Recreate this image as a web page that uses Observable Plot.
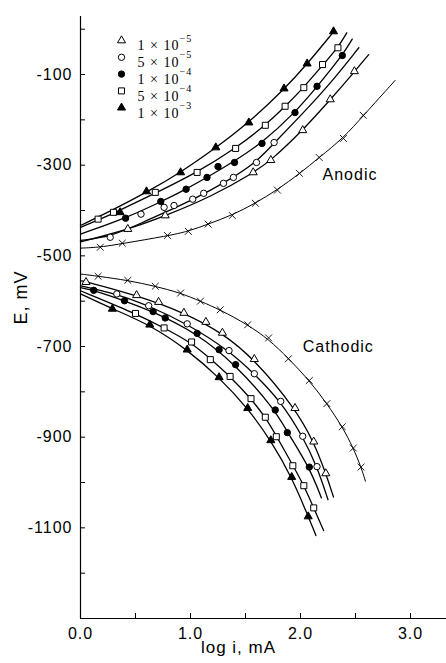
<!DOCTYPE html>
<html>
<head>
<meta charset="utf-8">
<script src="https://cdn.jsdelivr.net/npm/d3@7"></script>
<script src="https://cdn.jsdelivr.net/npm/@observablehq/plot@0.6"></script>
<style>
html, body { margin: 0; padding: 0; background: #fff; }
svg text { letter-spacing: 1px; }
</style>
</head>
<body>
<div id="chart"></div>
<script>
// ---------- data: [log i (mA), E (mV)] ----------
// legend / series keys
const legendMantissa = ["1", "5", "1", "5", "1"];
const legendExponent = ["\u22125", "\u22125", "\u22124", "\u22124", "\u22123"];
const seriesSymbols = ["triangle", "circle", "circle", "square", "triangle"];
const seriesFilled = [false, false, true, false, true];

// Anodic branch – measured points
const anodic_blank = [[0.18,-481],[0.38,-472],[0.79,-455],[0.98,-446],[1.16,-430],[1.38,-411],[1.59,-384],[1.79,-355],[1.99,-318],[2.17,-283],[2.39,-241],[2.57,-190]];
const anodic_1e5 = [[0.43,-441],[0.77,-411],[1.57,-316],[1.73,-289],[2.02,-223],[2.27,-155],[2.49,-93]];
const anodic_5e5 = [[0.27,-459],[0.55,-408],[0.76,-393],[0.85,-389],[1.02,-375],[1.12,-362],[1.30,-340],[1.39,-327],[1.60,-294],[1.76,-250]];
const anodic_1e4 = [[0.41,-417],[0.73,-380],[0.96,-353],[1.15,-327],[1.25,-303],[1.40,-294],[1.65,-252],[1.95,-184],[2.15,-126],[2.38,-58]];
const anodic_5e4 = [[0.16,-419],[0.30,-404],[0.68,-360],[1.06,-316],[1.41,-263],[1.68,-212],[1.86,-170],[2.03,-129],[2.20,-78],[2.34,-41]];
const anodic_1e3 = [[0.36,-404],[0.60,-358],[0.91,-316],[1.23,-261],[1.53,-206],[1.85,-131],[2.06,-76],[2.30,-5]];

// Anodic branch – fitted curves
const anodicCurve_blank = [[0,-483],[0.18,-481],[0.38,-473],[0.79,-456],[0.98,-446],[1.16,-430],[1.38,-410],[1.59,-384],[1.79,-354],[1.99,-319],[2.17,-283],[2.39,-240],[2.57,-191],[2.86,-113]];
const anodicCurve_1e5 = [[0,-469],[0.43,-442],[0.77,-412],[1.20,-368],[1.57,-317],[1.73,-290],[2.02,-223],[2.27,-156],[2.49,-94],[2.62,-56]];
const anodicCurve_5e5 = [[0,-466],[0.27,-458],[0.55,-428],[0.85,-395],[1.02,-376],[1.30,-340],[1.60,-294],[1.76,-251],[2.02,-186],[2.25,-126],[2.53,-41]];
const anodicCurve_1e4 = [[0,-452],[0.41,-417],[0.73,-381],[0.96,-353],[1.20,-320],[1.40,-291],[1.65,-251],[1.95,-184],[2.15,-127],[2.38,-58],[2.47,-22]];
const anodicCurve_5e4 = [[0,-437],[0.16,-421],[0.30,-406],[0.68,-362],[1.06,-316],[1.41,-263],[1.68,-212],[1.86,-171],[2.03,-128],[2.20,-80],[2.34,-41],[2.42,-8]];
const anodicCurve_1e3 = [[0,-433],[0.30,-398],[0.60,-360],[0.91,-316],[1.23,-262],[1.53,-206],[1.85,-133],[2.06,-77],[2.31,-3]];

// Cathodic branch – measured points
const cathodic_blank = [[0.16,-545],[0.43,-554],[0.68,-567],[0.91,-582],[1.09,-600],[1.27,-619],[1.52,-652],[1.71,-681],[1.89,-727],[2.08,-775],[2.24,-826],[2.38,-877],[2.48,-924],[2.55,-966]];
const cathodic_1e5 = [[0.05,-558],[0.51,-587],[0.71,-602],[0.94,-626],[1.14,-646],[1.29,-670],[1.58,-728],[1.95,-836],[2.12,-910],[2.23,-980]];
const cathodic_5e5 = [[0.33,-584],[0.62,-610],[0.97,-650],[1.35,-709],[1.58,-760],[1.82,-821],[2.02,-898],[2.15,-965]];
const cathodic_1e4 = [[0.12,-576],[0.40,-599],[0.66,-623],[0.77,-637],[1.06,-671],[1.26,-707],[1.41,-740],[1.77,-840],[1.88,-890],[2.08,-966]];
const cathodic_5e4 = [[0.50,-627],[0.76,-659],[1.01,-690],[1.18,-729],[1.36,-766],[1.55,-815],[1.68,-856],[1.78,-899],[1.93,-963],[2.03,-1007],[2.12,-1056]];
const cathodic_1e3 = [[0.29,-617],[0.63,-652],[0.97,-707],[1.26,-768],[1.52,-836],[1.73,-907],[1.92,-988],[2.07,-1075]];

// Cathodic branch – fitted curves
const cathodicCurve_blank = [[0,-540],[0.16,-545],[0.43,-554],[0.68,-567],[0.91,-582],[1.09,-600],[1.27,-619],[1.52,-652],[1.71,-684],[1.89,-726],[2.08,-775],[2.24,-826],[2.38,-877],[2.48,-924],[2.55,-966],[2.59,-997]];
const cathodicCurve_1e5 = [[0,-555],[0.05,-557],[0.51,-587],[0.94,-625],[1.29,-670],[1.58,-728],[1.95,-836],[2.12,-910],[2.23,-980],[2.30,-1032]];
const cathodicCurve_5e5 = [[0,-566],[0.33,-584],[0.62,-610],[0.97,-650],[1.35,-709],[1.58,-760],[1.82,-821],[2.02,-898],[2.15,-965],[2.25,-1038]];
const cathodicCurve_1e4 = [[0,-570],[0.12,-576],[0.40,-599],[0.66,-623],[1.06,-671],[1.41,-740],[1.77,-840],[1.88,-889],[2.08,-966],[2.19,-1034]];
const cathodicCurve_5e4 = [[0,-577],[0.50,-627],[0.76,-659],[1.01,-692],[1.18,-727],[1.36,-766],[1.55,-815],[1.68,-856],[1.78,-897],[1.93,-962],[2.03,-1006],[2.12,-1056],[2.21,-1106]];
const cathodicCurve_1e3 = [[0,-584],[0.29,-617],[0.63,-652],[0.97,-707],[1.26,-768],[1.52,-836],[1.73,-907],[1.92,-988],[2.07,-1075],[2.14,-1117]];

// ticks
const xTicksAll = [0, 0.5, 1, 1.5, 2, 2.5, 3];
const xTicksLabeled = [0, 1, 2, 3];
const yTicksAll = [0, -100, -200, -300, -400, -500, -600, -700, -800, -900, -1000, -1100, -1200];
const yTicksLabeled = [-100, -300, -500, -700, -900, -1100];

// ---------- build series table ----------
const anodicPts = [anodic_1e5, anodic_5e5, anodic_1e4, anodic_5e4, anodic_1e3];
const cathodicPts = [cathodic_1e5, cathodic_5e5, cathodic_1e4, cathodic_5e4, cathodic_1e3];
const anodicCurves = [anodicCurve_1e5, anodicCurve_5e5, anodicCurve_1e4, anodicCurve_5e4, anodicCurve_1e3];
const cathodicCurves = [cathodicCurve_1e5, cathodicCurve_5e5, cathodicCurve_1e4, cathodicCurve_5e4, cathodicCurve_1e3];

const symbolR = {triangle: 3.0, circle: 3.2, square: 3.4};
const X = d => d[0], Y = d => d[1];

const marks = [];
// axis lines
marks.push(Plot.ruleX([0], {stroke: "black", strokeWidth: 1.2}));
marks.push(Plot.ruleY([-1300], {stroke: "black", strokeWidth: 1.2}));

// blank (no inhibitor) curves
[anodicCurve_blank, cathodicCurve_blank].forEach(c =>
  marks.push(Plot.line(c, {x: X, y: Y, curve: "basis", stroke: "black", strokeWidth: 1})));
// inhibitor curves
[...anodicCurves, ...cathodicCurves].forEach(c =>
  marks.push(Plot.line(c, {x: X, y: Y, curve: "basis", stroke: "black", strokeWidth: 1.3})));

// blank markers
[anodic_blank, cathodic_blank].forEach(p =>
  marks.push(Plot.dot(p, {x: X, y: Y, symbol: "times", r: 3.2, stroke: "black", strokeWidth: 0.9})));

// inhibitor markers
seriesSymbols.forEach((s, i) => {
  [anodicPts[i], cathodicPts[i]].forEach(p =>
    marks.push(Plot.dot(p, {
      x: X, y: Y, symbol: s, r: symbolR[s],
      fill: seriesFilled[i] ? "black" : "white",
      stroke: "black", strokeWidth: 1
    })));
});

// legend (inside the frame, top-left)
seriesSymbols.forEach((s, i) => {
  const dy = 24 + 16.8 * i;
  marks.push(Plot.dot([s], {frameAnchor: "top-left", dx: 41, dy, symbol: s, r: symbolR[s],
    fill: seriesFilled[i] ? "black" : "white", stroke: "black", strokeWidth: 1}));
  marks.push(Plot.text([`${legendMantissa[i]} \u00d7 10`], {frameAnchor: "top-left", dx: 57, dy,
    textAnchor: "start", fontFamily: "Liberation Serif, serif", fontSize: 14}));
  marks.push(Plot.text([legendExponent[i]], {frameAnchor: "top-left", dx: 99, dy: dy - 6,
    textAnchor: "start", fontFamily: "Liberation Serif, serif", fontSize: 10}));
});

// branch labels
marks.push(Plot.text(["Anodic"], {x: 2.2, y: -321, textAnchor: "start", fontSize: 16}));
marks.push(Plot.text(["Cathodic"], {x: 2.02, y: -700, textAnchor: "start", fontSize: 16}));

// axes: inward ticks + labels
marks.push(Plot.axisY({ticks: yTicksAll, tickSize: -5, fill: "none", label: null}));
marks.push(Plot.axisY({ticks: yTicksLabeled, tickSize: 0, tickPadding: 8, tickFormat: d => String(d), label: null}));
marks.push(Plot.axisX({ticks: xTicksAll, tickSize: -5, fill: "none", label: null}));
marks.push(Plot.axisX({ticks: xTicksLabeled, tickSize: 0, tickPadding: 9, tickFormat: d3.format(".1f"), label: null}));

// axis titles
marks.push(Plot.text(["log i, mA"], {frameAnchor: "bottom", dx: -25, dy: 34, fontSize: 17}));
marks.push(Plot.text(["E, mV"], {frameAnchor: "left", dx: -59, dy: 7, rotate: -90, fontSize: 18}));

const chart = Plot.plot({
  width: 446,
  height: 663,
  marginLeft: 80,
  marginRight: 0,
  marginTop: 16,
  marginBottom: 45,
  x: {domain: [0, 3.327]},
  y: {domain: [-1300, 28]},
  style: {fontFamily: "Liberation Sans, Arial, sans-serif", fontSize: "16px", color: "black", background: "white"},
  marks
});
document.getElementById("chart").appendChild(chart);
</script>
</body>
</html>
